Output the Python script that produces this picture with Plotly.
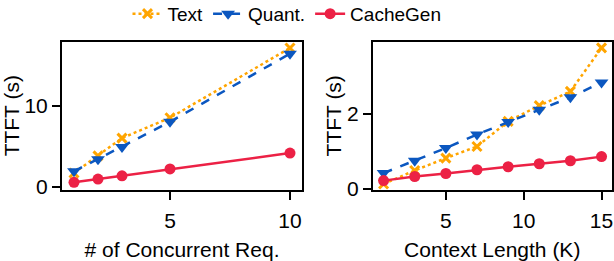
import plotly.graph_objects as go

# Left panel: number of concurrent requests
req_x = [1, 2, 3, 5, 10]
req_text = [1.7, 3.8, 6.0, 8.5, 17.1]
req_quant = [1.9, 3.4, 4.9, 8.0, 16.4]
req_cachegen = [0.55, 0.95, 1.35, 2.2, 4.15]

# Right panel: context length (K)
ctx_x = [1, 3, 5, 7, 9, 11, 13, 15]
ctx_text = [0.13, 0.49, 0.82, 1.13, 1.8, 2.22, 2.6, 3.76]
ctx_quant = [0.42, 0.75, 1.09, 1.45, 1.78, 2.11, 2.44, 2.84]
ctx_cachegen = [0.22, 0.33, 0.41, 0.51, 0.59, 0.67, 0.75, 0.86]

series_names = ["Text", "Quant.", "CacheGen"]
colors = ["#FFA500", "#0B57C0", "#EC2145"]
dashes = ["dot", "dash", "solid"]
symbols = ["x-thin", "triangle-down", "circle"]

FONT = "Liberation Sans, Arial, sans-serif"

W, H = 614, 261


def px_x(p):
    return p / W


def px_y(p):
    return (H - p) / H


fig = go.Figure()

panels = [
    ("x", "y", req_x, [req_text, req_quant, req_cachegen]),
    ("x2", "y2", ctx_x, [ctx_text, ctx_quant, ctx_cachegen]),
]
for pi, (xa, ya, xs, ys_list) in enumerate(panels):
    for si, ys in enumerate(ys_list):
        sym = symbols[si]
        marker = dict(symbol=sym, size=11, color=colors[si])
        if sym == "x-thin":
            marker = dict(symbol=sym, size=9, color=colors[si],
                          line=dict(color=colors[si], width=3))
        elif sym == "triangle-down":
            marker = dict(symbol=sym, size=12, color=colors[si])
        fig.add_trace(go.Scatter(
            x=xs, y=ys, xaxis=xa, yaxis=ya,
            mode="lines+markers",
            name=series_names[si],
            showlegend=(pi == 0),
            line=dict(color=colors[si], width=2.5, dash=dashes[si]),
            marker=marker,
        ))

axis_common = dict(
    showline=True, linecolor="black", linewidth=2, mirror=True,
    ticks="outside", ticklen=8, tickwidth=2, tickcolor="black",
    showgrid=False, zeroline=False, automargin=False,
    tickfont=dict(family=FONT, size=21, color="black"),
    title_font=dict(family=FONT, size=21, color="black"),
)

ydom = [px_y(190), px_y(41.5)]

fig.update_layout(
    width=W, height=H,
    margin=dict(l=0, r=0, t=0, b=0, autoexpand=False),
    paper_bgcolor="white", plot_bgcolor="white",
    font=dict(family=FONT, size=19, color="black"),
    showlegend=True,
    legend=dict(orientation="h", x=px_x(287), xanchor="center", y=1.02, yanchor="top",
                font=dict(family=FONT, size=19, color="black"),
                itemwidth=30, tracegroupgap=0, bgcolor="rgba(0,0,0,0)"),
    xaxis=dict(domain=[px_x(62), px_x(302)], range=[0.5, 10.5], tickvals=[5, 10],
               ticklabelstandoff=3,
               title=dict(text="# of Concurrent Req.", standoff=11), anchor="y", **axis_common),
    yaxis=dict(domain=ydom, range=[-0.4, 17.9], tickvals=[0, 10],
               title=dict(text="TTFT (s)", standoff=0), anchor="x", **axis_common),
    xaxis2=dict(domain=[px_x(373), px_x(611.5)], range=[0.32, 15.64], tickvals=[5, 10, 15],
                ticklabelstandoff=3,
                title=dict(text="Context Length (K)", standoff=11), anchor="y2", **axis_common),
    yaxis2=dict(domain=ydom, range=[-0.03, 3.93], tickvals=[0, 2],
                title=dict(text="TTFT (s)", standoff=0), anchor="x2", **axis_common),
)

fig.write_html(
    "out.html",
    config={"displayModeBar": False},
    post_script="document.body.style.margin='0';document.body.style.overflow='hidden';",
)
